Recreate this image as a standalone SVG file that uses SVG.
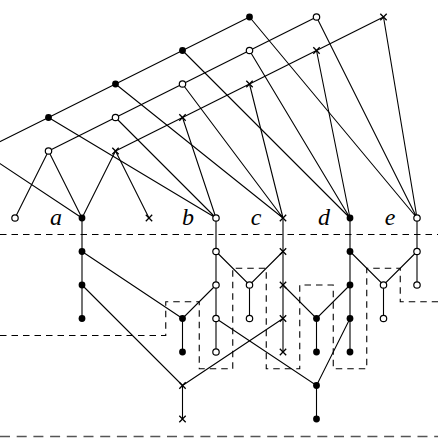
<svg xmlns="http://www.w3.org/2000/svg" width="438" height="438" viewBox="0 0 438 438">
<style>
.e{stroke:#000;stroke-width:1.1;fill:none}
.d{stroke:#000;stroke-width:1.1;fill:none;stroke-dasharray:6.5 5}
.d2{stroke:#555;stroke-width:1.6;fill:none;stroke-dasharray:10 6.7}
.f{fill:#000}
.o{fill:#fff;stroke:#000;stroke-width:1.2}
.x{stroke:#000;stroke-width:1.3;fill:none}
.lb{font-family:"Liberation Serif","DejaVu Serif",serif;font-style:italic;font-size:24px;fill:#000}
</style>
<defs>
<path id="xm" class="x" d="M-3.2,-3.2L3.2,3.2M-3.2,3.2L3.2,-3.2"/>
</defs>
<rect width="438" height="438" fill="#fff"/>
<g id="boundaries">
<path class="d" d="M0,234.5H438"/>
<path class="d" d="M0,335.5H165.75V301.75H199.25V368.75H232.75V268.25H266.25V368.75H299.75V285H333.25V368.75H366.75V268.25H400.25V301.75H438"/>
<path class="d2" d="M0,436.5H438"/>
</g>
<g id="connectors" class="e">
<path d="M-19,151L48.5,117.5L115.5,84L182.5,50.5L249.5,17"/>
<path d="M48.5,151L115.5,117.5L182.5,84L249.5,50.5L316.5,17"/>
<path d="M115.5,151L182.5,117.5L249.5,84L316.5,50.5L383.5,17"/>
<path d="M-19,151L82,218M48.5,151L82,218M115.5,151L82,218M48.5,151L15,218M115.5,151L149,218"/>
<path d="M48.5,117.5L216,218M115.5,117.5L216,218M182.5,117.5L216,218"/>
<path d="M115.5,84L283,218M182.5,84L283,218M249.5,84L283,218"/>
<path d="M182.5,50.5L350,218M249.5,50.5L350,218M316.5,50.5L350,218"/>
<path d="M249.5,17L417,218M316.5,17L417,218M383.5,17L417,218"/>
<path d="M82,218V318.5M216,218V352M283,218V352M350,218V352M417,218V285"/>
<path d="M82,251.5L182.5,318.5L216,285M182.5,318.5V352"/>
<path d="M82,285L182.5,385.5L283,318.5M182.5,385.5V419"/>
<path d="M216,251.5L249.5,285L283,251.5M249.5,285V318.5"/>
<path d="M283,285L316.5,318.5L350,285M316.5,318.5V352"/>
<path d="M216,318.5L316.5,385.5L350,318.5M316.5,385.5V419"/>
<path d="M350,251.5L383.5,285L417,251.5M383.5,285V318.5"/>
</g>
<g id="labels">
<text class="lb" x="56" y="225" text-anchor="middle">a</text>
<text class="lb" x="188" y="225" text-anchor="middle">b</text>
<text class="lb" x="256" y="225" text-anchor="middle">c</text>
<text class="lb" x="324" y="225" text-anchor="middle">d</text>
<text class="lb" x="390" y="225" text-anchor="middle">e</text>
</g>
<g id="F0"><circle class="f" cx="48.5" cy="117.5" r="3.4"/></g>
<g id="F1"><circle class="f" cx="115.5" cy="84" r="3.4"/></g>
<g id="F2"><circle class="f" cx="182.5" cy="50.5" r="3.4"/></g>
<g id="F3"><circle class="f" cx="249.5" cy="17" r="3.4"/></g>
<g id="O0"><circle class="o" cx="48.5" cy="151" r="3.2"/></g>
<g id="O1"><circle class="o" cx="115.5" cy="117.5" r="3.2"/></g>
<g id="O2"><circle class="o" cx="182.5" cy="84" r="3.2"/></g>
<g id="O3"><circle class="o" cx="249.5" cy="50.5" r="3.2"/></g>
<g id="O4"><circle class="o" cx="316.5" cy="17" r="3.2"/></g>
<g id="X0"><use href="#xm" x="115.5" y="151"/></g>
<g id="X1"><use href="#xm" x="182.5" y="117.5"/></g>
<g id="X2"><use href="#xm" x="249.5" y="84"/></g>
<g id="X3"><use href="#xm" x="316.5" y="50.5"/></g>
<g id="X4"><use href="#xm" x="383.5" y="17"/></g>
<g id="L0"><circle class="o" cx="15" cy="218" r="3.2"/></g>
<g id="M0"><use href="#xm" x="149" y="218"/></g>
<g id="a0"><circle class="f" cx="82" cy="218" r="3.4"/></g>
<g id="a1"><circle class="f" cx="82" cy="251.5" r="3.4"/></g>
<g id="a2"><circle class="f" cx="82" cy="285" r="3.4"/></g>
<g id="a3"><circle class="f" cx="82" cy="318.5" r="3.4"/></g>
<g id="b0"><circle class="o" cx="216" cy="218" r="3.2"/></g>
<g id="b1"><circle class="o" cx="216" cy="251.5" r="3.2"/></g>
<g id="b2"><circle class="o" cx="216" cy="285" r="3.2"/></g>
<g id="b3"><circle class="o" cx="216" cy="318.5" r="3.2"/></g>
<g id="b4"><circle class="o" cx="216" cy="352" r="3.2"/></g>
<g id="c0"><use href="#xm" x="283" y="218"/></g>
<g id="c1"><use href="#xm" x="283" y="251.5"/></g>
<g id="c2"><use href="#xm" x="283" y="285"/></g>
<g id="c3"><use href="#xm" x="283" y="318.5"/></g>
<g id="c4"><use href="#xm" x="283" y="352"/></g>
<g id="d0"><circle class="f" cx="350" cy="218" r="3.4"/></g>
<g id="d1"><circle class="f" cx="350" cy="251.5" r="3.4"/></g>
<g id="d2"><circle class="f" cx="350" cy="285" r="3.4"/></g>
<g id="d3"><circle class="f" cx="350" cy="318.5" r="3.4"/></g>
<g id="d4"><circle class="f" cx="350" cy="352" r="3.4"/></g>
<g id="e0"><circle class="o" cx="417" cy="218" r="3.2"/></g>
<g id="e1"><circle class="o" cx="417" cy="251.5" r="3.2"/></g>
<g id="e2"><circle class="o" cx="417" cy="285" r="3.2"/></g>
<g id="p0"><circle class="f" cx="182.5" cy="318.5" r="3.4"/></g>
<g id="p1"><circle class="f" cx="182.5" cy="352" r="3.4"/></g>
<g id="q0"><use href="#xm" x="182.5" y="385.5"/></g>
<g id="q1"><use href="#xm" x="182.5" y="419"/></g>
<g id="r0"><circle class="o" cx="249.5" cy="285" r="3.2"/></g>
<g id="r1"><circle class="o" cx="249.5" cy="318.5" r="3.2"/></g>
<g id="s0"><circle class="f" cx="316.5" cy="318.5" r="3.4"/></g>
<g id="s1"><circle class="f" cx="316.5" cy="352" r="3.4"/></g>
<g id="t0"><circle class="f" cx="316.5" cy="385.5" r="3.4"/></g>
<g id="t1"><circle class="f" cx="316.5" cy="419" r="3.4"/></g>
<g id="u0"><circle class="o" cx="383.5" cy="285" r="3.2"/></g>
<g id="u1"><circle class="o" cx="383.5" cy="318.5" r="3.2"/></g>
</svg>
